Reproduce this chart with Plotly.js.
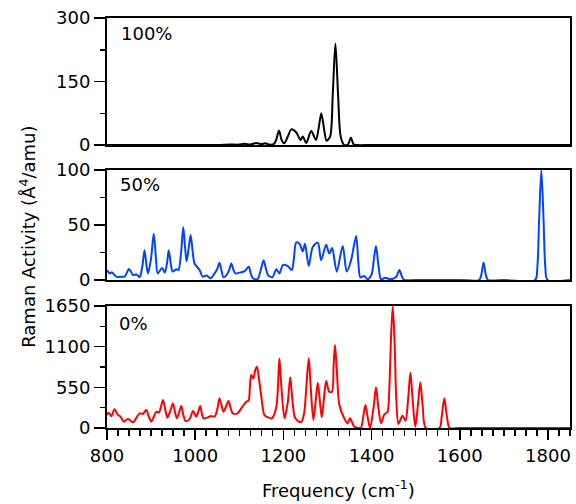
<!DOCTYPE html>
<html>
<head>
<meta charset="utf-8">
<script src="https://cdn.plot.ly/plotly-3.0.1.min.js"></script>
<style>html,body{margin:0;padding:0;background:#fff;}#chart{width:576px;height:504px;}</style>
</head>
<body>
<div id="chart"></div>
<script>
// 100% panel (black)
const freq100 = [800, 900, 1000, 1050, 1080, 1100, 1112, 1125, 1138, 1150, 1159, 1168, 1178, 1183, 1190, 1196, 1202, 1210, 1218, 1229, 1239, 1244, 1252, 1263, 1274, 1280, 1286, 1292, 1298, 1306, 1312, 1318, 1324, 1330, 1338, 1347, 1353, 1359, 1366, 1400, 1600, 1850];
const act100  = [0, 0, 0, 0, 1, 1, 3, 1, 5, 2, 4, 1, 2, 10, 34, 12, 4, 20, 37, 30, 12, 20, 5, 33, 12, 40, 75, 40, 10, 20, 120, 240, 120, 20, 0, 2, 18, 2, 0, 0, 0, 0];

// 50% panel (blue)
const freq50 = [800, 806, 811, 821, 833, 840, 850, 859, 867, 874, 880, 885, 890, 893, 900, 906, 911, 915, 925, 931, 936, 940, 945, 949, 957, 962, 968, 973, 977, 980.5, 985, 989.6, 994, 998.6, 1010, 1017, 1026, 1035, 1044, 1050, 1055, 1060, 1064, 1071, 1077, 1082, 1087, 1091, 1101, 1112, 1121.6, 1126, 1131, 1141, 1148, 1155, 1160, 1165, 1175, 1184, 1191, 1199, 1210, 1219, 1224, 1229, 1236.5, 1244, 1249, 1257.5, 1266.6, 1278, 1285.6, 1297, 1304, 1310.5, 1321, 1334.6, 1343.6, 1353.6, 1365, 1370, 1374.6, 1383, 1391, 1400, 1405, 1410, 1416, 1421.5, 1431, 1443, 1456, 1463, 1469, 1474, 1500, 1600, 1644, 1649, 1654, 1659, 1664, 1700, 1771, 1776, 1780, 1785, 1790, 1794, 1799, 1850];
const act50  = [9, 6, 7, 3, 3, 3, 10, 4.5, 5, 2.5, 12, 27, 12, 6, 20, 42, 20, 6, 11, 6.7, 15, 27, 14, 7.6, 9.7, 9, 25, 48, 30, 17, 28, 41, 27, 15, 9, 3, 4, 1.5, 6, 10, 15.7, 8, 2.4, 4.5, 9, 15, 9, 6, 6.7, 8, 12, 6, 1.5, 0.6, 8, 18, 11, 4.5, 2.4, 9.7, 6, 13.6, 12.7, 9, 20, 34, 33, 26, 33, 12.7, 30, 34, 18, 32, 24, 29, 7.6, 31, 7.6, 18, 40, 16, 2.4, 3.6, 0.6, 5, 18, 31, 12, 0.6, 2, 0.6, 3, 9, 3, 0, 0, 0, 0, 5, 16, 5, 0, 0, 0, 12, 55, 100, 55, 12, 0, 0];

// 0% panel (red)
const freq0 = [800, 804, 810, 817, 825, 830, 838, 847.6, 859, 866, 874, 881, 889, 895, 900.6, 912, 918, 922, 927, 932, 937, 943, 949.5, 954, 958.5, 963, 968.5, 973, 978, 987, 995, 1002.5, 1007, 1011.5, 1015, 1019, 1029, 1036, 1044, 1050, 1055, 1060, 1064, 1070, 1075.6, 1080, 1085, 1096, 1106, 1116, 1121, 1124, 1127, 1132, 1136, 1140, 1145, 1150, 1157, 1165, 1174, 1184, 1188, 1191, 1195, 1202.5, 1210, 1215.5, 1221, 1227, 1240, 1247, 1252, 1257.6, 1262, 1268, 1273, 1278, 1283, 1287, 1292, 1297, 1304, 1310, 1314, 1317, 1321, 1327, 1338, 1346, 1351, 1361, 1371, 1376, 1381, 1386, 1391, 1396.6, 1405, 1410, 1415, 1421.5, 1429, 1436, 1440, 1444, 1448, 1452, 1456, 1461, 1470, 1477, 1483, 1488, 1493, 1499, 1505, 1510.5, 1516, 1523, 1554, 1559, 1565, 1571, 1577, 1600, 1850];
const act0  = [176, 206, 160, 252, 176, 160, 86, 122, 77, 130, 198, 189, 243, 150, 86, 221, 207, 280, 378, 250, 140, 220, 333, 220, 131, 200, 297, 180, 95, 117, 230, 153, 220, 297, 200, 131, 144, 162, 153, 250, 401, 300, 221, 290, 365, 280, 198, 198, 279, 356, 370, 550, 716, 671, 780, 829, 650, 424, 176, 144, 131, 284, 600, 942, 600, 131, 350, 685, 350, 131, 77, 198, 550, 942, 550, 108, 350, 613, 350, 144, 400, 635, 490, 490, 850, 1122, 800, 311, 131, 63, 131, 18, 0, 0, 150, 311, 150, 0, 300, 550, 300, 63, 185, 216, 500, 1200, 1650, 1200, 400, 56, 167, 100, 400, 748, 400, 18, 300, 617, 300, 0, 0, 150, 401, 150, 0, 0, 0];

const panelLabels = ['100%', '50%', '0%'];
const yTicks100 = [0, 150, 300];
const yTicks50 = [0, 50, 100];
const yTicks0 = [0, 550, 1100, 1650];
const yMinor100 = [75, 225];
const yMinor50 = [25, 75];
const yMinor0 = [275, 825, 1375];

const FONT = '"DejaVu Sans", sans-serif';
const lineW = 2;
const tf = {family: FONT, size: 18, color: '#000'};

const traces = [
  {x: freq0, y: act0, xaxis: 'x', yaxis: 'y', type: 'scatter', mode: 'lines',
   line: {color: '#ff0000', width: lineW, shape: 'spline', smoothing: 0.8}},
  {x: freq50, y: act50, xaxis: 'x2', yaxis: 'y2', type: 'scatter', mode: 'lines',
   line: {color: '#0044ff', width: lineW, shape: 'spline', smoothing: 0.8}},
  {x: freq100, y: act100, xaxis: 'x3', yaxis: 'y3', type: 'scatter', mode: 'lines',
   line: {color: '#000000', width: lineW, shape: 'spline', smoothing: 0.8}}
];

function yax(domain, range, ticks, minor) {
  return {
    domain: domain, range: range, tickmode: 'array', tickvals: ticks, ticktext: ticks.map(String),
    ticks: 'outside', ticklen: 11, tickwidth: 1.5, tickcolor: '#000',
    showline: true, linewidth: 2, linecolor: '#000', mirror: true,
    showgrid: false, zeroline: false, fixedrange: true,
    tickfont: tf,
    minor: {tickmode: 'array', tickvals: minor, ticks: 'outside', ticklen: 5, tickwidth: 1.5, tickcolor: '#000', showgrid: false}
  };
}
function xaxTop(anchor) {
  return {
    anchor: anchor, matches: 'x', range: [800, 1850], showticklabels: false, ticks: '',
    showline: true, linewidth: 2, linecolor: '#000', mirror: true,
    showgrid: false, zeroline: false
  };
}

const layout = {
  width: 576, height: 504,
  margin: {l: 107, r: 6, t: 18, b: 76},
  paper_bgcolor: '#fff', plot_bgcolor: '#fff',
  showlegend: false,
  font: tf,
  xaxis: {
    anchor: 'y', range: [800, 1850], tick0: 800, dtick: 200,
    ticks: 'outside', ticklen: 10, tickwidth: 1.5, tickcolor: '#000',
    showline: true, linewidth: 2, linecolor: '#000', mirror: true,
    showgrid: false, zeroline: false,
    tickfont: tf,
    minor: {dtick: 25, ticks: 'outside', ticklen: 6, tickwidth: 1.5, tickcolor: '#000', showgrid: false}
  },
  xaxis2: xaxTop('y2'),
  xaxis3: xaxTop('y3'),
  yaxis: yax([0, 0.2976], [0, 1650], yTicks0, yMinor0),
  yaxis2: yax([0.361, 0.6293], [0, 100], yTicks50, yMinor50),
  yaxis3: yax([0.6902, 1], [0, 300], yTicks100, yMinor100),
  annotations: [
    {text: panelLabels[0], xref: 'paper', yref: 'paper', x: 0.026, y: 0.963, xanchor: 'left', yanchor: 'middle', showarrow: false, font: tf},
    {text: panelLabels[1], xref: 'paper', yref: 'paper', x: 0.024, y: 0.593, xanchor: 'left', yanchor: 'middle', showarrow: false, font: tf},
    {text: panelLabels[2], xref: 'paper', yref: 'paper', x: 0.022, y: 0.254, xanchor: 'left', yanchor: 'middle', showarrow: false, font: tf},
    {text: 'Raman Activity (Å<sup>4</sup>/amu)', xref: 'paper', yref: 'paper', x: -0.171, y: 0.466, xanchor: 'center', yanchor: 'middle', textangle: -90, showarrow: false, font: tf},
    {text: 'Frequency (cm<sup>-1</sup>)', xref: 'paper', yref: 'paper', x: 0.501, y: -0.150, xanchor: 'center', yanchor: 'middle', showarrow: false, font: tf}
  ]
};

Plotly.newPlot('chart', traces, layout, {staticPlot: true, displayModeBar: false});
</script>
</body>
</html>
